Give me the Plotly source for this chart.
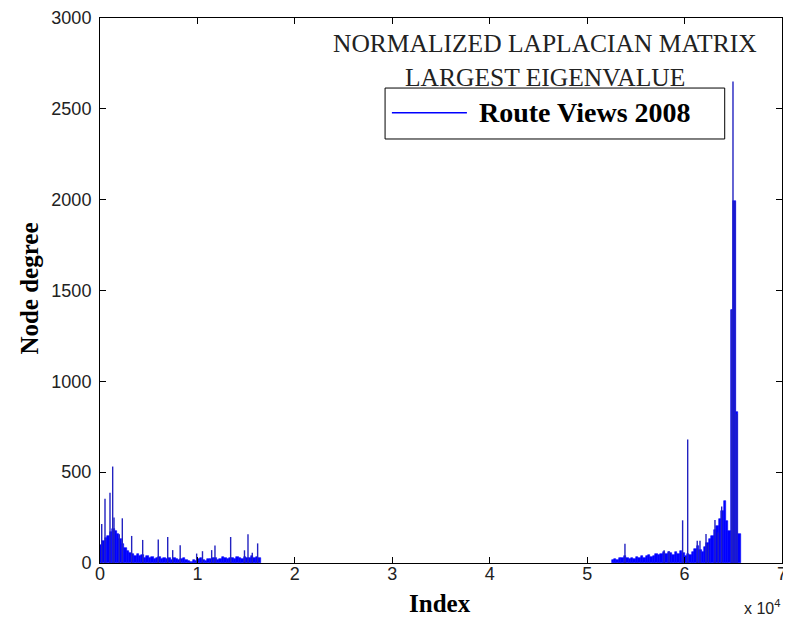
import plotly.graph_objects as go

# ---------------- data ----------------
series_name = "Route Views 2008"
title_lines = ["NORMALIZED LAPLACIAN MATRIX", "LARGEST EIGENVALUE"]

# envelope of the dense node-degree trace (bins of 250 indices)
bin_width = 250
left_bin_start = list(range(0, 16500, 250))
left_degree = [100, 120, 135, 150, 170, 185, 175, 160, 130, 105,
               80, 65, 55, 48, 40, 50, 38, 44, 30, 36,
               26, 32, 22, 28, 35, 24, 30, 20, 26, 18,
               28, 22, 14, 24, 30, 18, 12, 8, 15, 10,
               22, 28, 18, 12, 24, 20, 30, 26, 18, 22,
               34, 28, 24, 30, 26, 20, 32, 28, 24, 35,
               30, 26, 38, 28, 32, 25]
right_bin_start = list(range(52500, 65750, 250))
right_degree = [15, 22, 18, 25, 30, 40, 28, 20, 30, 24,
                32, 26, 38, 30, 36, 44, 34, 40, 48, 42,
                52, 58, 48, 62, 54, 44, 58, 50, 68, 55,
                40, 52, 45, 58, 78, 92, 70, 60, 88, 110,
                130, 150, 180, 205, 240, 285, 340, 230, 175, 1390,
                1990, 830, 160]

# isolated spikes (single nodes with high degree)
spike_index = [175, 513, 1026, 1300, 1437, 1980, 2290, 3250, 4380, 5980,
               6950, 7460, 8230, 9920, 10520, 11460, 11800, 13410, 14830,
               15190, 15630, 16180,
               53880, 57900, 58400, 59800, 60320, 61300, 61580, 62200,
               62450, 63120, 63450, 63810, 64820, 64970, 65170, 65380]
spike_degree = [214, 354, 387, 531, 251, 158, 246, 149, 127, 130,
                143, 71, 98, 52, 65, 71, 97, 143, 70,
                158, 56, 108,
                106, 70, 65, 235, 680, 123, 123, 160,
                103, 237, 168, 311, 1395, 2650, 1990, 820]

x_tick_vals = [0, 10000, 20000, 30000, 40000, 50000, 60000, 70000]
x_tick_text = ["0", "1", "2", "3", "4", "5", "6", "7"]
y_tick_vals = [0, 500, 1000, 1500, 2000, 2500, 3000]

# ---------------- figure ----------------
BLUE = "#0000ff"
bin_x = [b + bin_width / 2 for b in left_bin_start + right_bin_start]
bin_y = left_degree + right_degree

fig = go.Figure()
fig.add_trace(go.Bar(
    x=bin_x, y=bin_y, width=bin_width,
    marker=dict(color=BLUE, line=dict(color=BLUE, width=0.6)),
    showlegend=False, hoverinfo="skip",
))

sx, sy = [], []
for i, d in zip(spike_index, spike_degree):
    sx += [i, i, None]
    sy += [0, d, None]
fig.add_trace(go.Scatter(
    x=sx, y=sy, mode="lines",
    line=dict(color="#2222c0", width=1.4),
    showlegend=False, hoverinfo="skip",
))

tick_font = dict(family="Liberation Sans, Arial, sans-serif", size=18, color="#222222")
axis_common = dict(
    showline=True, linecolor="black", linewidth=1, mirror="ticks",
    ticks="inside", ticklen=6, tickcolor="black", tickwidth=1,
    showgrid=False, zeroline=False, tickfont=tick_font, automargin=False,
)
fig.update_xaxes(range=[0, 70000], tickvals=x_tick_vals, ticktext=x_tick_text,
                 ticklabelstandoff=-6, **axis_common)
fig.update_yaxes(range=[0, 3000], tickvals=y_tick_vals, ticklabelstandoff=4,
                 **axis_common)

serif = "Liberation Serif, Times New Roman, serif"
ann = []
# title inside plot
ann.append(dict(x=0.6525, y=0.953, xref="paper", yref="paper", text=title_lines[0],
                showarrow=False, font=dict(family=serif, size=25.5, color="#222222"),
                xanchor="center", yanchor="middle"))
ann.append(dict(x=0.6525, y=0.890, xref="paper", yref="paper", text=title_lines[1],
                showarrow=False, font=dict(family=serif, size=25.5, color="#222222"),
                xanchor="center", yanchor="middle"))
# legend text
ann.append(dict(x=0.553, y=0.826, xref="paper", yref="paper", text="<b>" + series_name + "</b>",
                showarrow=False, font=dict(family=serif, size=28, color="black"),
                xanchor="left", yanchor="middle"))
# axis titles
ann.append(dict(x=-0.103, y=0.503, xref="paper", yref="paper", text="<b>Node degree</b>",
                showarrow=False, textangle=-90, font=dict(family=serif, size=25, color="black"),
                xanchor="center", yanchor="middle"))
ann.append(dict(x=0.4985, y=-0.074, xref="paper", yref="paper", text="<b>Index</b>",
                showarrow=False, font=dict(family=serif, size=25, color="black"),
                xanchor="center", yanchor="middle"))
ann.append(dict(x=1.0, y=-0.081, xref="paper", yref="paper", text="x 10<sup>4</sup>",
                showarrow=False, font=dict(family="Liberation Sans, Arial, sans-serif", size=16, color="#222222"),
                xanchor="right", yanchor="middle"))

shapes = [
    dict(type="rect", xref="paper", yref="paper", x0=0.418, x1=0.916, y0=0.778, y1=0.8715,
         line=dict(color="black", width=1), fillcolor="white", layer="above"),
    dict(type="line", xref="paper", yref="paper", x0=0.428, x1=0.538, y0=0.826, y1=0.826,
         line=dict(color=BLUE, width=1.5), layer="above"),
]

# page body has an 8px default margin, so the figure is 8px smaller
fig.update_layout(
    width=783, height=611,
    margin=dict(l=92, r=9, t=10, b=56, autoexpand=False),
    paper_bgcolor="white", plot_bgcolor="white",
    bargap=0, annotations=ann, shapes=shapes,
)

fig.write_html("out.html")
